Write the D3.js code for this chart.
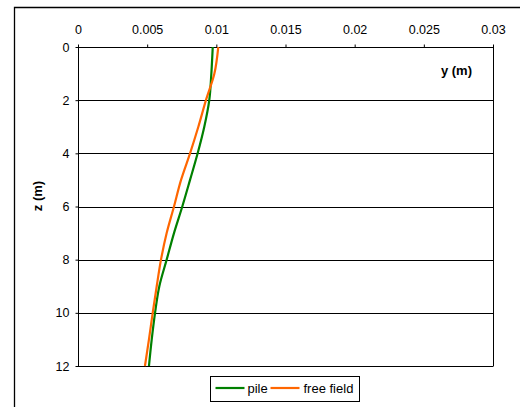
<!DOCTYPE html>
<html>
<head>
<meta charset="utf-8">
<script src="https://cdn.jsdelivr.net/npm/d3@7"></script>
<style>
  body { margin: 0; background: #fff; }
  svg { display: block; font-family: "Liberation Sans", Arial, sans-serif; }
  .tick text { font-size: 12.5px; fill: #000; }
</style>
</head>
<body>
<div id="chart"></div>
<script>
// depth (m) and lateral displacement (m)
const depths = [0, 1, 2, 3, 4, 5, 6, 7, 8, 9, 10, 11, 12];
const pile = [0.00974, 0.00964, 0.00949, 0.00913, 0.00865, 0.0081, 0.00754, 0.00694, 0.00641, 0.00588, 0.00557, 0.00533, 0.00513];
const freeField = [0.01014, 0.00986, 0.00925, 0.0087, 0.0081, 0.00745, 0.00694, 0.00641, 0.006, 0.00569, 0.0054, 0.00513, 0.00484];
const xTicks = [0, 0.005, 0.01, 0.015, 0.02, 0.025, 0.03];
const zTicks = [0, 2, 4, 6, 8, 10, 12];

const W = 520, H = 407;
const plot = {left: 78, top: 47, right: 493, bottom: 366};

const svg = d3.select("#chart").append("svg")
    .attr("width", W)
    .attr("height", H);

// outer chart frame (open at right/bottom, as cropped)
svg.append("path")
    .attr("d", `M14.5,${H} V7.5 H${W}`)
    .attr("fill", "none")
    .attr("stroke", "#000")
    .attr("stroke-width", 1.3);

const x = d3.scaleLinear().domain([0, 0.03]).range([plot.left, plot.right]);
const z = d3.scaleLinear().domain([0, 12]).range([plot.top, plot.bottom]);

// grid lines
svg.append("g").selectAll("line")
    .data(zTicks.slice(1))
  .enter().append("line")
    .attr("x1", plot.left).attr("x2", plot.right)
    .attr("y1", d => Math.round(z(d)) + 0.5).attr("y2", d => Math.round(z(d)) + 0.5)
    .attr("stroke", "#000");

// right border
svg.append("line")
    .attr("x1", plot.right + 0.5).attr("x2", plot.right + 0.5)
    .attr("y1", plot.top).attr("y2", plot.bottom + 0.5)
    .attr("stroke", "#000");

// axes
const xAxis = svg.append("g")
    .attr("transform", `translate(0,${plot.top + 0.5})`)
    .call(d3.axisTop(x).tickValues(xTicks).tickSize(3).tickPadding(11)
      .tickFormat(d => d3.format("")(+d.toFixed(3))));
xAxis.select(".domain").attr("d", `M${plot.left},0H${plot.right}`);

const zAxis = svg.append("g")
    .attr("transform", `translate(${plot.left + 0.5},0)`)
    .call(d3.axisLeft(z).tickValues(zTicks).tickSize(3).tickPadding(6));
zAxis.select(".domain").attr("d", `M0,${plot.top}V${plot.bottom}`);

svg.selectAll(".tick text").attr("font-family", null).attr("font-size", null);

// axis titles
svg.append("text")
    .attr("x", 472).attr("y", 75)
    .attr("text-anchor", "end")
    .attr("font-size", 13).attr("font-weight", "bold")
    .text("y (m)");

svg.append("text")
    .attr("transform", "translate(42,196) rotate(-90)")
    .attr("text-anchor", "middle")
    .attr("font-size", 13).attr("font-weight", "bold")
    .text("z (m)");

// profiles
const line = d3.line()
    .x(d => x(d[1]))
    .y(d => z(d[0]))
    .curve(d3.curveMonotoneY);

const series = [
  {name: "pile", values: pile, color: "#008000"},
  {name: "free field", values: freeField, color: "#ff6600"}
];

svg.selectAll(".profile")
    .data(series)
  .enter().append("path")
    .attr("class", "profile")
    .attr("d", s => line(depths.map((d, i) => [d, s.values[i]])))
    .attr("fill", "none")
    .attr("stroke", s => s.color)
    .attr("stroke-width", 2.2);

// legend
const legend = svg.append("g").attr("transform", "translate(210.5,376.5)");
legend.append("rect")
    .attr("width", 149).attr("height", 25)
    .attr("fill", "#fff").attr("stroke", "#000");

const items = [{x: 5, tx: 37}, {x: 60, tx: 93}];
series.forEach((s, i) => {
  legend.append("line")
      .attr("x1", items[i].x).attr("x2", items[i].x + 29)
      .attr("y1", 11.5).attr("y2", 11.5)
      .attr("stroke", s.color).attr("stroke-width", 2.2);
  legend.append("text")
      .attr("x", items[i].tx).attr("y", 16.5)
      .attr("font-size", 13)
      .text(s.name);
});
</script>
</body>
</html>
